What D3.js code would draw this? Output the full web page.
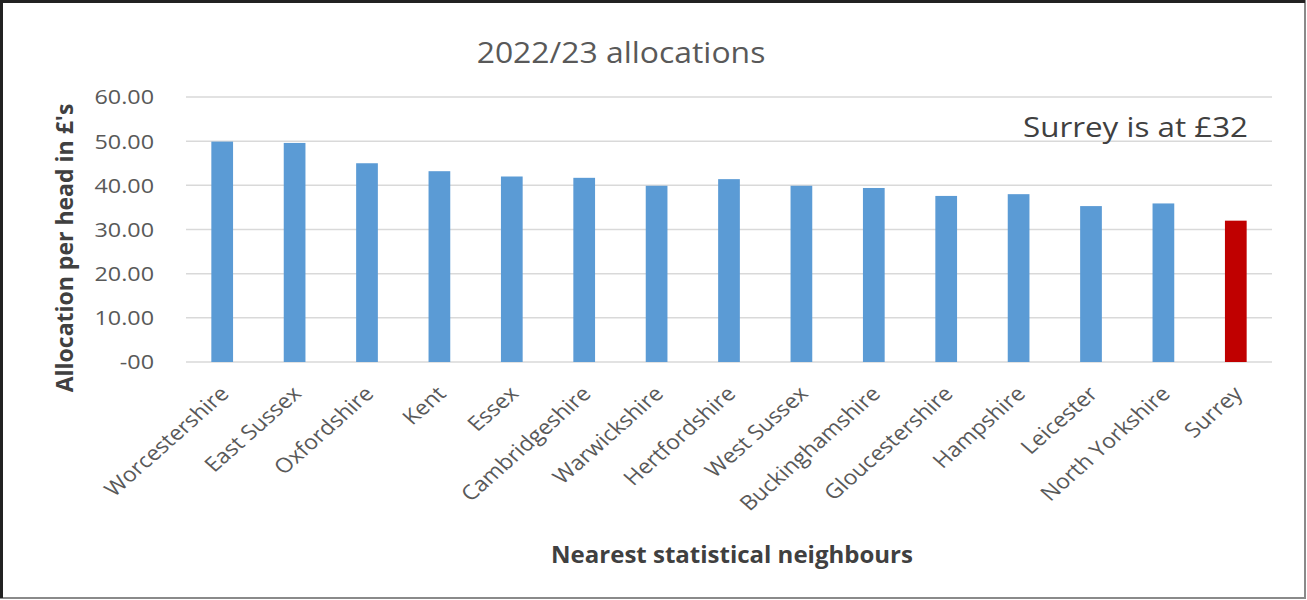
<!DOCTYPE html>
<html>
<head>
<meta charset="utf-8">
<script src="https://cdn.jsdelivr.net/npm/d3@7"></script>
<style>
  html, body { margin: 0; padding: 0; background: #fff; }
  svg { display: block; }
  text { font-family: "Open Sans", "Noto Sans", sans-serif; }
</style>
</head>
<body>
<svg id="chart" width="1307" height="600"></svg>
<script>
// Allocation per head (£) for Surrey and its nearest statistical neighbours, 2022/23
const categories = ["Worcestershire", "East Sussex", "Oxfordshire", "Kent", "Essex",
  "Cambridgeshire", "Warwickshire", "Hertfordshire", "West Sussex", "Buckinghamshire",
  "Gloucestershire", "Hampshire", "Leicester", "North Yorkshire", "Surrey"];
const allocations = [49.9, 49.6, 45.0, 43.2, 42.0, 41.7, 39.9, 41.4, 39.9, 39.4,
  37.6, 38.0, 35.3, 35.9, 32.0];
const yTicks = [0, 10, 20, 30, 40, 50, 60];
const highlight = "Surrey";

const svg = d3.select("#chart");
const W = 1307, H = 600;
const stretch = 1.13; // wide lettering used for the regular-weight text

// frame around the whole chart
svg.append("rect")
  .attr("x", 1).attr("y", 1).attr("width", W - 3).attr("height", H - 3)
  .attr("fill", "#fff").attr("stroke", "#8a8a8a").attr("stroke-width", 2);
svg.append("path")
  .attr("d", `M1.5,${H - 2} V1.5 H${W - 2}`)
  .attr("fill", "none").attr("stroke", "#222").attr("stroke-width", 3);

const plot = { left: 186, right: 1272, top: 97, bottom: 362 };

const x = d3.scaleBand()
  .domain(categories)
  .range([plot.left, plot.right])
  .paddingInner(0.7)
  .paddingOuter(0.35);

const y = d3.scaleLinear()
  .domain([0, 60])
  .range([plot.bottom, plot.top]);

// horizontal gridlines
svg.append("g")
  .selectAll("line")
  .data(yTicks)
  .join("line")
  .attr("x1", plot.left).attr("x2", plot.right)
  .attr("y1", d => y(d)).attr("y2", d => y(d))
  .attr("stroke", "#d9d9d9").attr("stroke-width", 1.5);

// y-axis tick labels (accounting style: zero shown as "-00")
const fmt = d => d === 0 ? "-00" : d3.format(".2f")(d);
svg.append("g")
  .selectAll("text")
  .data(yTicks)
  .join("text")
  .attr("transform", d => `translate(154,${y(d)}) scale(${stretch + 0.01},1)`)
  .attr("text-anchor", "end")
  .attr("dy", "0.36em")
  .attr("fill", "#595959")
  .style("font-size", "20.5px")
  .text(fmt);

// bars
svg.append("g")
  .selectAll("rect")
  .data(categories.map((c, i) => ({ c, v: allocations[i] })))
  .join("rect")
  .attr("x", d => x(d.c))
  .attr("width", x.bandwidth())
  .attr("y", d => y(d.v))
  .attr("height", d => y(0) - y(d.v))
  .attr("fill", d => d.c === highlight ? "#c00000" : "#5b9bd5");

// x-axis category labels, rotated
const xAxis = d3.axisBottom(x).tickSize(0).tickPadding(0);
const gx = svg.append("g")
  .attr("transform", `translate(0,${plot.bottom})`)
  .call(xAxis);
gx.select(".domain").remove();
gx.selectAll("text")
  .attr("fill", "#595959")
  .style("font-size", "20.5px")
  .style("font-family", "'Open Sans', sans-serif")
  .attr("text-anchor", "end")
  .attr("y", 0)
  .attr("dy", null)
  .attr("transform", `translate(8,33) scale(${stretch},1) rotate(-45)`);

// title
svg.append("text")
  .attr("transform", `translate(621,63) scale(1.1,1)`)
  .attr("text-anchor", "middle")
  .attr("fill", "#595959")
  .style("font-size", "29px")
  .text("2022/23 allocations");

// annotation
svg.append("text")
  .attr("transform", `translate(1248,137) scale(1.12,1)`)
  .attr("text-anchor", "end")
  .attr("fill", "#404040")
  .style("font-size", "28px")
  .text("Surrey is at £32");

// axis titles
svg.append("text")
  .attr("transform", `translate(73,248) rotate(-90)`)
  .attr("text-anchor", "middle")
  .attr("fill", "#404040")
  .style("font-size", "23px")
  .style("font-weight", "bold")
  .text("Allocation per head in £'s");

svg.append("text")
  .attr("x", 732).attr("y", 563)
  .attr("text-anchor", "middle")
  .attr("fill", "#404040")
  .style("font-size", "24px")
  .style("font-weight", "bold")
  .text("Nearest statistical neighbours");
</script>
</body>
</html>
